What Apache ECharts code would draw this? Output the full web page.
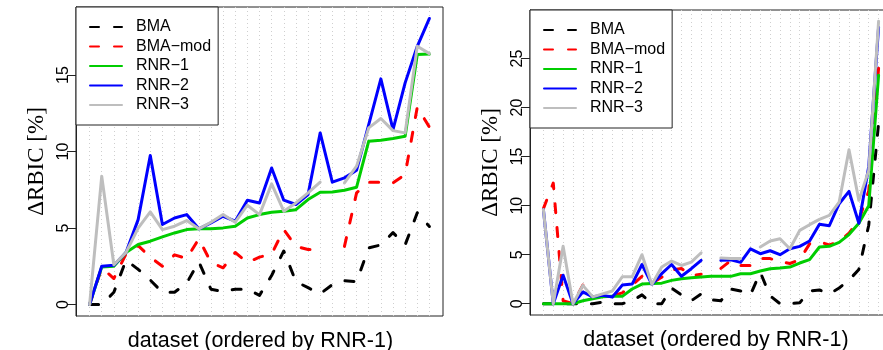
<!DOCTYPE html>
<html>
<head>
<meta charset="utf-8">
<script src="https://cdn.jsdelivr.net/npm/echarts@6/dist/echarts.min.js"></script>
<style>
  html, body { margin: 0; padding: 0; background: #fff; }
  #chart { width: 883px; height: 350px; }
</style>
</head>
<body>
<div id="chart"></div>
<script>
// legend / series names (R draws a real minus sign)
const seriesNames = ['BMA', 'BMA\u2212mod', 'RNR\u22121', 'RNR\u22122', 'RNR\u22123'];

// left panel, 29 datasets
const leftBMA    = [0, 0, 0.8, 2.9, 2.3, 1.6, 0.8, 0.8, 1.4, 2.8, 1.0, 0.85, 1.0, 1.0, 0.6, 1.9, 3.5, 1.5, 1.1, 0.7, 1.3, 1.55, 1.5, 3.7, 3.9, 4.7, 3.9, 6.0, 5.1];
const leftBMAmod = [0, 2.4, 1.7, 3.3, 3.85, 3.1, 2.5, 3.25, 3.0, 4.3, 2.75, 2.4, 3.4, 2.75, 3.1, 3.3, 4.9, 3.8, 3.6, 3.6, null, 3.8, 7.3, 8.0, 8.0, 7.95, 8.5, 12.9, 11.6];
const leftRNR1   = [0, 2.45, 2.5, 3.4, 3.92, 4.14, 4.42, 4.68, 4.9, 4.95, 4.95, 5.01, 5.12, 5.66, 5.88, 6.03, 6.1, 6.2, 6.86, 7.34, 7.36, 7.47, 7.67, 10.68, 10.74, 10.85, 11.0, 16.34, 16.38];
const leftRNR2   = [0, 2.5, 2.57, 3.4, 5.55, 9.74, 5.23, 5.66, 5.88, 4.95, 5.34, 5.77, 5.45, 6.82, 6.64, 8.93, 6.82, 6.54, 7.19, 11.22, 8.0, 8.28, 8.78, 11.76, 14.75, 11.44, 14.49, 16.88, 18.7];
const leftRNR3   = [0, 8.39, 2.6, 3.4, 5.0, 6.06, 4.9, 5.12, 5.49, 4.95, 5.38, 5.88, 5.38, 6.49, 5.88, 7.89, 6.1, 6.64, 7.3, 8.0, null, 7.95, 9.04, 11.55, 12.16, 11.37, 11.22, 16.88, 16.4];

// right panel, 35 datasets
const rightBMA    = [0, 0, 0, 0, 0, 0, 0.15, 0, 0, 0.3, 0.9, 0, 0, 1.6, 0.9, 0.3, 1.0, 0.4, 0.3, 1.5, 1.3, 0.9, 3.2, 0.8, 0, 0, 0.1, 1.3, 1.4, 1.0, 1.6, 2.4, 3.5, 8.0, 18.4];
const rightBMAmod = [9.7, 12.3, 0.3, 0, 1.9, 0.6, 0.85, 0.8, 1.1, 1.9, 2.8, 2.1, 2.7, 3.45, 3.6, 2.85, 3.0, null, 3.6, 4.4, 3.9, 3.9, 4.6, 4.6, 4.3, 4.1, 4.5, 6.1, 6.3, 6.0, 6.3, 7.2, 8.5, 11.5, 24.0];
const rightRNR1   = [0, 0, 0, 0, 0.3, 0.5, 0.72, 0.75, 0.75, 1.5, 2.0, 2.06, 2.1, 2.38, 2.55, 2.65, 2.72, 2.79, 2.79, 2.79, 3.06, 3.06, 3.33, 3.57, 3.64, 3.74, 4.15, 4.49, 5.78, 5.85, 6.25, 7.05, 8.2, 10.0, 23.3];
const rightRNR2   = [9.6, 0, 2.9, 0, 1.2, 0.7, 0.85, 0.68, 1.9, 2.0, 4.0, 1.97, 3.06, 4.0, 2.8, 3.57, 4.42, null, 4.42, 4.47, 4.22, 5.6, 5.1, 5.4, 5.0, 5.6, 5.85, 6.4, 8.1, 7.95, 10.2, 11.45, 8.2, 14.0, 28.2];
const rightRNR3   = [9.6, 0, 5.85, 0, 1.87, 0.7, 1.0, 1.3, 2.75, 2.75, 5.0, 1.97, 3.74, 4.35, 3.9, 4.25, 5.2, null, 4.65, 4.6, 4.6, null, 5.78, 6.39, 6.63, 5.6, 7.48, 8.06, 8.6, 9.0, 10.37, 15.7, 10.54, 13.6, 28.8];

// y tick labels
const leftTicks = [0, 5, 10, 15];
const rightTicks = [0, 5, 10, 15, 20, 25];

const colors = ['#000000', '#ff0000', '#00cd00', '#0000ff', '#bebebe'];
const dashedLine = [true, true, false, false, false];
const sans = 'Liberation Sans, Arial, sans-serif';
const serif = 'Liberation Serif, Times New Roman, serif';

const leftData = [leftBMA, leftBMAmod, leftRNR1, leftRNR2, leftRNR3];
const rightData = [rightBMA, rightBMAmod, rightRNR1, rightRNR2, rightRNR3];

function indices(n) {
  return Array.from({ length: n }, (_, i) => i);
}

function xAxisFor(gridIndex, n, shift) {
  const pad = (n - 1) * 0.04; // R style 4% range padding
  return {
    type: 'value',
    gridIndex: gridIndex,
    min: -pad,
    max: n - 1 + pad,
    name: 'dataset (ordered by RNR-1)',
    nameLocation: 'middle',
    nameGap: 14,
    nameTextStyle: { fontFamily: sans, fontSize: 21.5, color: '#000', padding: [0, 0, 0, shift] },
    axisLine: { show: false, onZero: false },
    axisLabel: { show: false },
    axisTick: { show: false, customValues: indices(n) },
    splitLine: { show: true, lineStyle: { color: '#cfcfcf', width: 1, type: [1, 3] } }
  };
}

function yAxisFor(gridIndex, min, max, ticks) {
  return {
    type: 'value',
    gridIndex: gridIndex,
    min: min,
    max: max,
    name: '\u0394RBIC [%]',
    nameLocation: 'middle',
    nameRotate: 90,
    nameGap: 28,
    nameTextStyle: { fontFamily: serif, fontSize: 23, color: '#000' },
    axisLine: { show: true, onZero: false, lineStyle: { color: '#222', width: 1 } },
    axisTick: { show: true, inside: false, length: 9, customValues: ticks, lineStyle: { color: '#222', width: 1 } },
    axisLabel: { customValues: ticks, rotate: 90, margin: 4, fontFamily: sans, fontSize: 16, color: '#000' },
    splitLine: { show: false }
  };
}

function makeSeries(values, k, gridIndex) {
  return {
    name: seriesNames[k],
    type: 'line',
    xAxisIndex: gridIndex,
    yAxisIndex: gridIndex,
    data: values.map((v, i) => [i, v]),
    symbol: 'none',
    connectNulls: false,
    silent: true,
    itemStyle: { color: colors[k] },
    lineStyle: {
      color: colors[k],
      width: 3,
      cap: 'round',
      join: 'round',
      type: dashedLine[k] ? [9, 15] : 'solid'
    }
  };
}

function legendFor(left, top) {
  return {
    left: left,
    top: top,
    orient: 'vertical',
    data: seriesNames,
    selectedMode: false,
    itemWidth: 32,
    itemHeight: 14,
    itemGap: 3.5,
    padding: [12, 7, 12, 13],
    borderColor: '#222',
    borderWidth: 1,
    borderRadius: 0,
    backgroundColor: '#fff',
    itemStyle: { opacity: 0 },
    textStyle: { fontFamily: sans, fontSize: 16, color: '#000', padding: [0, 0, 0, 9] }
  };
}

const myChart = echarts.init(document.getElementById('chart'));

const option = {
  animation: false,
  backgroundColor: '#fff',
  grid: [
    { left: 76, top: 7, width: 367, height: 309, outerBoundsMode: 'none', show: true, borderColor: '#222', borderWidth: 1, backgroundColor: 'transparent' },
    { left: 530, top: 10, width: 362, height: 305, outerBoundsMode: 'none', show: true, borderColor: '#222', borderWidth: 1, backgroundColor: 'transparent' }
  ],
  xAxis: [xAxisFor(0, leftBMA.length, 2), xAxisFor(1, rightBMA.length, 10)],
  yAxis: [yAxisFor(0, -0.75, 19.45, leftTicks), yAxisFor(1, -1.15, 29.95, rightTicks)],
  legend: [legendFor(76, 7), legendFor(530, 10)],
  series: [
    ...leftData.map((vals, k) => makeSeries(vals, k, 0)),
    ...rightData.map((vals, k) => makeSeries(vals, k, 1))
  ]
};

myChart.setOption(option);
</script>
</body>
</html>
